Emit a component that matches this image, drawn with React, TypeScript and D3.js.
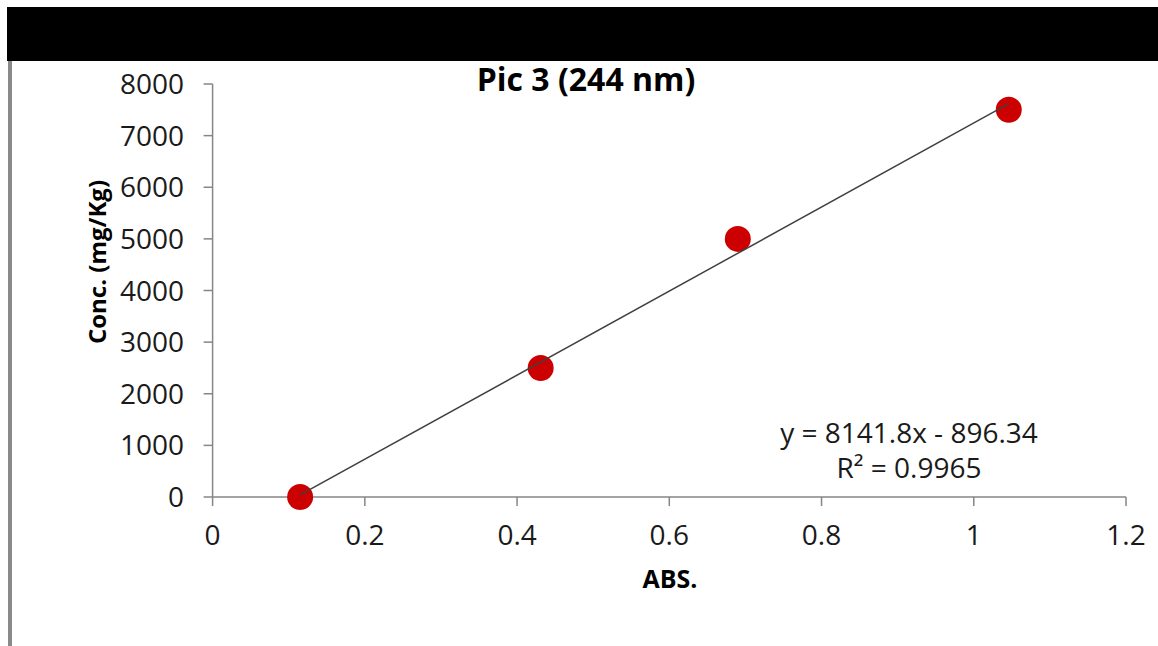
import React from "react";
import * as d3 from "d3";

const absValues = [0.115, 0.431, 0.69, 1.046];
const concValues = [0, 2500, 5000, 7500];
const xTicks = [0, 0.2, 0.4, 0.6, 0.8, 1, 1.2];
const yTicks = [0, 1000, 2000, 3000, 4000, 5000, 6000, 7000, 8000];
const trendSlope = 8141.8;
const trendIntercept = -896.34;
const titleText = "Pic 3 (244 nm)";
const xTitle = "ABS.";
const yTitle = "Conc. (mg/Kg)";
const eqText = "y = 8141.8x - 896.34";
const r2Text = "R² = 0.9965";

const W = 1158;
const H = 646;

export default function App() {
  const x = d3.scaleLinear().domain([0, 1.2]).range([212.6, 1126]);
  const y = d3.scaleLinear().domain([0, 8000]).range([497, 84]);
  const font = "'Open Sans', sans-serif";
  const axisColor = "#868686";
  const xMin = d3.min(absValues) as number;
  const xMax = d3.max(absValues) as number;
  const line = d3
    .line<number>()
    .x((d) => x(d))
    .y((d) => y(trendSlope * d + trendIntercept));
  const pts = absValues.map((a, i) => ({ a, c: concValues[i] }));
  const fmtX = (v: number) => String(v);

  return (
    <svg
      width={W}
      height={H}
      style={{ position: "absolute", left: 0, top: 0, background: "#fff" }}
    >
      <rect x={0} y={0} width={W} height={H} fill="#fff" />
      <rect x={7} y={7} width={W - 7} height={54} fill="#000" />
      <rect x={8} y={61} width={4} height={H - 61} fill="#8a8a8a" />

      {/* axes */}
      <line x1={x(0)} x2={x(0)} y1={y(8000)} y2={y(0)} stroke={axisColor} strokeWidth={1.5} />
      <line x1={x(0)} x2={x(1.2)} y1={y(0)} y2={y(0)} stroke={axisColor} strokeWidth={1.5} />
      {yTicks.map((t) => (
        <g key={"y" + t}>
          <line x1={x(0) - 9} x2={x(0)} y1={y(t)} y2={y(t)} stroke={axisColor} strokeWidth={1.5} />
          <text
            x={184}
            y={y(t) + 10}
            textAnchor="end"
            fontFamily={font}
            fontSize={28}
            fill="#1a1a1a"
          >
            {t}
          </text>
        </g>
      ))}
      {xTicks.map((t) => (
        <g key={"x" + t}>
          <line x1={x(t)} x2={x(t)} y1={y(0)} y2={y(0) + 9} stroke={axisColor} strokeWidth={1.5} />
          <text
            x={x(t)}
            y={545}
            textAnchor="middle"
            fontFamily={font}
            fontSize={28}
            fill="#1a1a1a"
          >
            {fmtX(t)}
          </text>
        </g>
      ))}

      {/* points */}
      {pts.map((p, i) => (
        <circle key={i} cx={x(p.a)} cy={y(p.c)} r={13} fill="#cc0000" />
      ))}

      {/* trendline */}
      <path d={line([xMin, xMax]) || ""} fill="none" stroke="#404040" strokeWidth={1.5} />

      {/* texts */}
      <text x={586} y={91} textAnchor="middle" fontFamily={font} fontWeight="bold" fontSize={32} fill="#000">
        {titleText}
      </text>
      <text x={670} y={588} textAnchor="middle" fontFamily={font} fontWeight="bold" fontSize={25} fill="#000">
        {xTitle}
      </text>
      <text
        transform="translate(106,262) rotate(-90)"
        textAnchor="middle"
        fontFamily={font}
        fontWeight="bold"
        fontSize={24}
        fill="#000"
      >
        {yTitle}
      </text>
      <text x={909} y={443} textAnchor="middle" fontFamily={font} fontSize={28} fill="#1a1a1a">
        {eqText}
      </text>
      <text x={909} y={478} textAnchor="middle" fontFamily={font} fontSize={28} fill="#1a1a1a">
        {r2Text}
      </text>
    </svg>
  );
}
